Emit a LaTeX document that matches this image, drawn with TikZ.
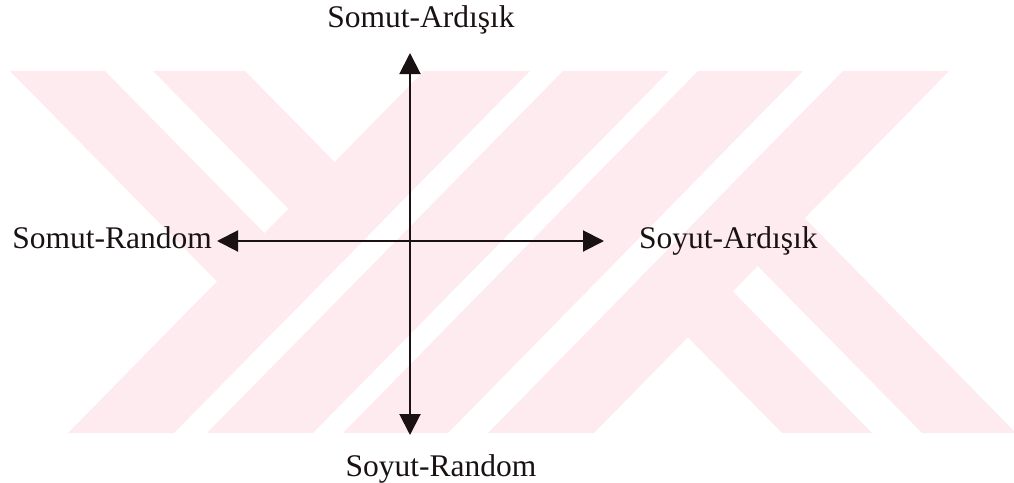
\documentclass[tikz,border=0pt]{standalone}
\usepackage{fontspec}
\setmainfont{Liberation Serif}
\usetikzlibrary{arrows.meta,positioning}
\definecolor{TezFiligran}{HTML}{FDEBEF}
\definecolor{TezMurekkep}{HTML}{1A1212}

\begin{document}
\begin{tikzpicture}[x=1pt, y=-1pt, font=\fontsize{31.5}{36}\selectfont,
   etiket/.style={inner sep=0pt, text height=21pt, text depth=7pt, text=TezMurekkep},
   eksen/.style={{Triangle[length=21pt,width=21pt]}-{Triangle[length=21pt,width=21pt]},
                 line width=2pt, TezMurekkep}]
  \useasboundingbox (0,0) rectangle (1014,482);
  % Filigran: soluk pembe şeritler, üstte ve altta düz kesilmiş
  \begin{scope}
    \clip (0,71) rectangle (1014,433);
    \fill[TezFiligran] (68,433) -- (174,433) -- (530,71) -- (424,71) -- cycle;
    \fill[TezFiligran] (207,433) -- (313,433) -- (669,71) -- (563,71) -- cycle;
    \fill[TezFiligran] (343,433) -- (448,433) -- (803,71) -- (698,71) -- cycle;
    \fill[TezFiligran] (488,433) -- (594,433) -- (949,71) -- (843,71) -- cycle;
    \begin{scope}
      \clip (0,71) -- (530,71) -- (174,433) -- (0,433) -- cycle;
      \fill[TezFiligran] (10,71) -- (105,71) -- (461,433) -- (366,433) -- cycle;
      \fill[TezFiligran] (153,71) -- (245,71) -- (601,433) -- (509,433) -- cycle;
    \end{scope}
    \begin{scope}
      \clip (843,71) -- (1014,71) -- (1014,433) -- (488,433) -- cycle;
      \fill[TezFiligran] (426,71) -- (516,71) -- (872,433) -- (782,433) -- cycle;
      \fill[TezFiligran] (566,71) -- (660,71) -- (1016,433) -- (922,433) -- cycle;
    \end{scope}
  \end{scope}
  \coordinate (n) at (410,53);
  \coordinate (s) at (410,435);
  \coordinate (w) at (217,241);
  \coordinate (e) at (604,241);
  \draw[eksen] (w) -- (e);
  \draw[eksen] (s) -- (n);
  \node[etiket, above=18pt of n, xshift=11pt] (somutArd) {Somut-Ardışık};
  \node[etiket, left=5pt of w]                (somutRnd) {Somut-Random};
  \node[etiket, right=35pt of e]              (soyutArd) {Soyut-Ardışık};
  \node[etiket, below=20pt of s, xshift=31pt] (soyutRnd) {Soyut-Random};
\end{tikzpicture}
\end{document}
